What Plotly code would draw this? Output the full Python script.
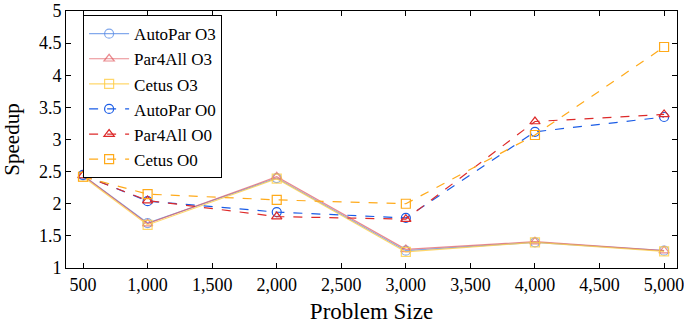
import plotly.graph_objects as go

sizes = [500, 1000, 2000, 3000, 4000, 5000]
autopar_o3 = [2.44, 1.70, 2.40, 1.27, 1.40, 1.27]
par4all_o3 = [2.44, 1.69, 2.42, 1.29, 1.41, 1.27]
cetus_o3 = [2.42, 1.67, 2.39, 1.25, 1.40, 1.26]
autopar_o0 = [2.45, 2.04, 1.87, 1.78, 3.12, 3.35]
par4all_o0 = [2.44, 2.05, 1.80, 1.76, 3.28, 3.39]
cetus_o0 = [2.42, 2.15, 2.06, 2.00, 3.07, 4.44]

x_ticks = [500, 1000, 1500, 2000, 2500, 3000, 3500, 4000, 4500, 5000]
x_labels = ["500", "1,000", "1,500", "2,000", "2,500", "3,000", "3,500", "4,000", "4,500", "5,000"]
y_ticks = [1, 1.5, 2, 2.5, 3, 3.5, 4, 4.5, 5]
y_labels = ["1", "1.5", "2", "2.5", "3", "3.5", "4", "4.5", "5"]

series = [
    ("AutoPar O3", autopar_o3, "rgba(90,140,230,0.75)", "solid", "circle-open"),
    ("Par4All O3", par4all_o3, "rgba(225,90,95,0.7)", "solid", "triangle-up-open"),
    ("Cetus O3", cetus_o3, "rgba(255,205,70,0.8)", "solid", "square-open"),
    ("AutoPar O0", autopar_o0, "#1a5ce6", "dash", "circle-open"),
    ("Par4All O0", par4all_o0, "#dd2a2a", "dash", "triangle-up-open"),
    ("Cetus O0", cetus_o0, "#ffaa1a", "dash", "square-open"),
]

fig = go.Figure()
for name, vals, color, dash, sym in series:
    fig.add_trace(go.Scatter(
        x=sizes, y=vals, name=name, mode="lines+markers",
        line=dict(color=color, width=1.2, dash=dash),
        marker=dict(symbol=sym, size=9, color=color, line=dict(width=1.2, color=color)),
    ))

font = "Liberation Serif"
fig.update_layout(
    width=684, height=324,
    margin=dict(l=66, r=7, t=11, b=56, autoexpand=False),
    paper_bgcolor="white", plot_bgcolor="white",
    font=dict(family=font, size=18, color="black"),
    showlegend=True,
    legend=dict(
        x=0.028, y=0.984, xanchor="left", yanchor="top",
        bordercolor="black", borderwidth=1, bgcolor="white",
        font=dict(family=font, size=17), itemwidth=40,
        tracegroupgap=0,
    ),
)
fig.update_xaxes(
    range=[368, 5100], tickvals=x_ticks, ticktext=x_labels, automargin=False,
    ticklabeloverflow="allow",
    ticks="inside", ticklen=5, tickcolor="black", showline=True, linecolor="black",
    linewidth=1, mirror="ticks", showgrid=False, zeroline=False,
    title=dict(text="Problem Size", font=dict(family=font, size=23)),
)
fig.update_yaxes(
    range=[1, 5], tickvals=y_ticks, ticktext=y_labels, automargin=False,
    ticks="inside", ticklen=5, tickcolor="black", showline=True, linecolor="black",
    linewidth=1, mirror="ticks", showgrid=False, zeroline=False,
    title=dict(text="Speedup", font=dict(family=font, size=21)),
)
fig.write_html("out.html", config={"displayModeBar": False},
               post_script="document.body.style.margin='0';document.body.style.overflow='hidden';")
